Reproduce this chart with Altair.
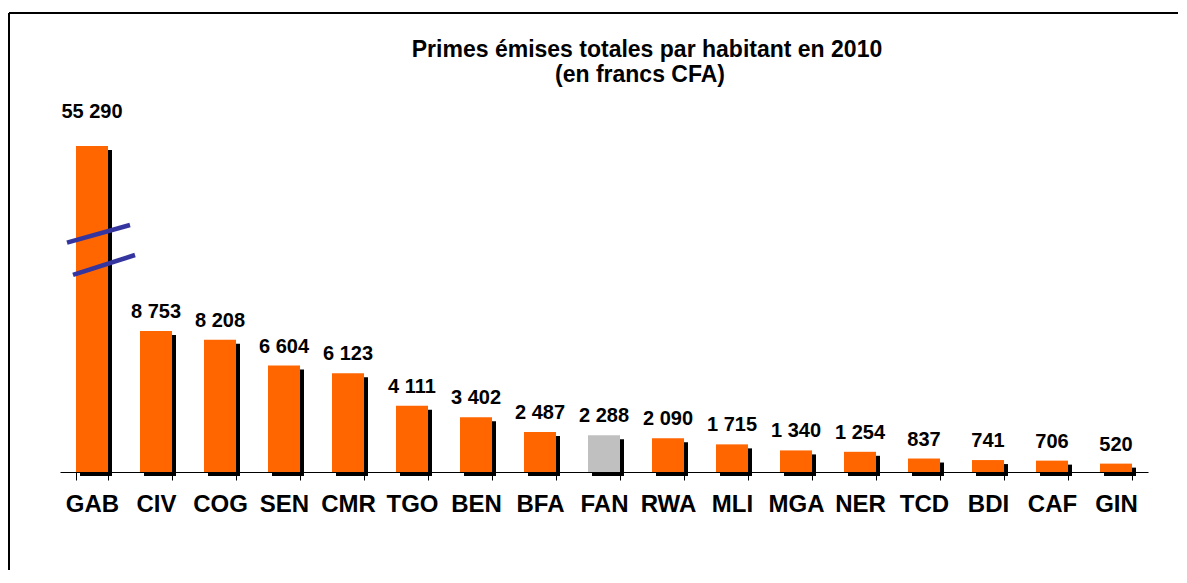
import altair as alt
import pandas as pd

# ---- data ----
countries = ["GAB", "CIV", "COG", "SEN", "CMR", "TGO", "BEN", "BFA", "FAN",
             "RWA", "MLI", "MGA", "NER", "TCD", "BDI", "CAF", "GIN"]
values = [55290, 8753, 8208, 6604, 6123, 4111, 3402, 2487, 2288,
          2090, 1715, 1340, 1254, 837, 741, 706, 520]
highlight = ["FAN"]          # grey bar
cap = 20240                  # drawn height of the broken (truncated) bar
break_lines = [(14234, 15332), (12229, 13470)]  # value levels of the two break strokes
title_lines = ["Primes émises totales par habitant en 2010", "(en francs CFA)"]

ORANGE = "#FF6600"
GREY = "#C0C0C0"
FONT = "Liberation Sans"

plotted = [min(v, cap) for v in values]
label_y = [p if v <= cap else p + 930 for v, p in zip(values, plotted)]
labels = [f"{v:,}".replace(",", " ") for v in values]
colors = [GREY if c in highlight else ORANGE for c in countries]

df = pd.DataFrame({"pays": countries, "valeur": values, "trace": plotted,
                   "ly": label_y, "label": labels, "couleur": colors})
one = pd.DataFrame({"k": [0]})

W, H = 1088, 372
xenc = alt.X("pays:N", sort=countries,
             scale=alt.Scale(paddingInner=0.5, paddingOuter=0.25),
             axis=alt.Axis(title=None, labelAngle=0, labelFont=FONT, labelFontSize=24,
                           labelFontWeight="bold", labelColor="black", labelPadding=12,
                           domainColor="black", domainWidth=1, tickColor="black",
                           tickSize=8, tickBand="extent", grid=False))
yscale = alt.Scale(domain=[0, 23090], nice=False, zero=True)

base = alt.Chart(df)

shadow = base.mark_bar(color="black", xOffset=4, yOffset=4).encode(
    x=xenc, y=alt.Y("trace:Q", scale=yscale, axis=None))

bars = base.mark_bar().encode(
    x=xenc, y=alt.Y("trace:Q", scale=yscale, axis=None),
    color=alt.Color("couleur:N", scale=None))

text = base.mark_text(baseline="alphabetic", dy=-13, font=FONT, fontSize=20,
                      fontWeight="bold", color="black").encode(
    x=xenc, y=alt.Y("ly:Q", scale=yscale, axis=None), text="label:N")

breaks = []
for (lo, hi), (xa, xb) in zip(break_lines, [(7, 70), (13, 75)]):
    breaks.append(alt.Chart(one).mark_rule(color="#3535A0", strokeWidth=4.5).encode(
        x=alt.value(xa), x2=alt.value(xb),
        y=alt.datum(lo, scale=yscale), y2=alt.datum(hi)))

titles = []
for line, (tx, ty) in zip(title_lines, [(587, -43), (580, -18)]):
    titles.append(alt.Chart(pd.DataFrame({"t": [line]})).mark_text(
        font=FONT, fontSize=23, fontWeight="bold", color="black",
        align="center", baseline="alphabetic").encode(
        x=alt.value(tx), y=alt.value(ty), text="t:N"))

frame_v = alt.Chart(one).mark_rule(color="black", strokeWidth=2).encode(
    x=alt.value(-51), y=alt.value(-87), y2=alt.value(470))
frame_h = alt.Chart(one).mark_rule(color="black", strokeWidth=2).encode(
    x=alt.value(-51), x2=alt.value(1118), y=alt.value(-87))

chart = alt.layer(frame_v, frame_h, shadow, bars, text, *breaks, *titles).properties(
    width=W, height=H,
    padding={"left": 0, "top": 4, "right": 0, "bottom": 0},
).configure(background="white").configure_view(strokeWidth=0, strokeOpacity=0)

chart.save("out.html", embed_options={"renderer": "svg", "actions": False})
